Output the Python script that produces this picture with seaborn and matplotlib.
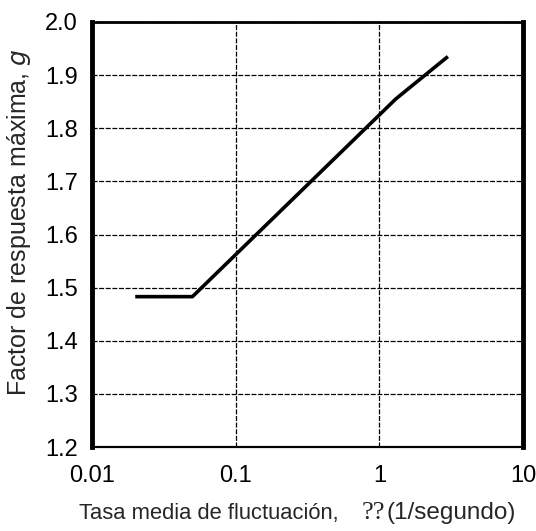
import matplotlib

matplotlib.use("Agg")

import matplotlib.pyplot as plt
import pandas as pd
import seaborn as sns
from matplotlib.ticker import FixedLocator, FixedFormatter, NullLocator

# values
rate = [0.02, 0.05, 1.3, 3.0]
peak_factor = [1.483, 1.483, 1.855, 1.935]
x_ticks = [0.01, 0.1, 1, 10]
x_tick_labels = ["0.01", "0.1", "1", "10"]
y_ticks = [1.2, 1.3, 1.4, 1.5, 1.6, 1.7, 1.8, 1.9, 2.0]

sns.set_style("white")
plt.rcParams["font.family"] = ["Liberation Sans", "DejaVu Sans"]

df = pd.DataFrame({"rate": rate, "g": peak_factor})

fig = plt.figure(figsize=(5.36, 5.31), dpi=100)
ax = fig.add_axes([92 / 536, 1 - 447 / 531, (523 - 92) / 536, (447 - 22) / 531])

sns.lineplot(data=df, x="rate", y="g", color="black", linewidth=2.6, ax=ax,
             solid_capstyle="butt")

ax.set_xscale("log")
ax.set_xlim(0.01, 10)
ax.set_ylim(1.2, 2.0)
ax.xaxis.set_major_locator(FixedLocator(x_ticks))
ax.xaxis.set_major_formatter(FixedFormatter(x_tick_labels))
ax.xaxis.set_minor_locator(NullLocator())
ax.set_yticks(y_ticks)
ax.set_yticklabels([f"{v:.1f}" for v in y_ticks])

ax.grid(True, which="major", color="black", linestyle=(0, (4, 1.3)), linewidth=0.9)
ax.set_axisbelow(True)

for side in ["left", "right"]:
    ax.spines[side].set_linewidth(3.5)
ax.spines["top"].set_linewidth(2.0)
ax.spines["bottom"].set_linewidth(1.6)
for spine in ax.spines.values():
    spine.set_color("black")

ax.tick_params(axis="y", direction="out", length=5, width=2.5, labelsize=17, pad=5, colors="black")
ax.tick_params(axis="x", direction="out", length=5, width=2.5, labelsize=17, pad=8, colors="black")

ax.set_ylabel("Factor de respuesta máxima, $g$", fontsize=18)
ax.yaxis.set_label_coords(-0.137, 0.53)
ax.set_xlabel("")

# x-axis title: the unknown symbol shows as serif question marks in the source
fig.text(79 / 536, 1 - 519 / 531, "Tasa media de fluctuación,", fontsize=15.8,
         ha="left", va="baseline")
fig.text(362 / 536, 1 - 519 / 531, "??", fontsize=19, family="Liberation Serif",
         ha="left", va="baseline")
fig.text(387 / 536, 1 - 519 / 531, "(1/segundo)", fontsize=17.5,
         ha="left", va="baseline")

fig.savefig("out.png", dpi=100)
